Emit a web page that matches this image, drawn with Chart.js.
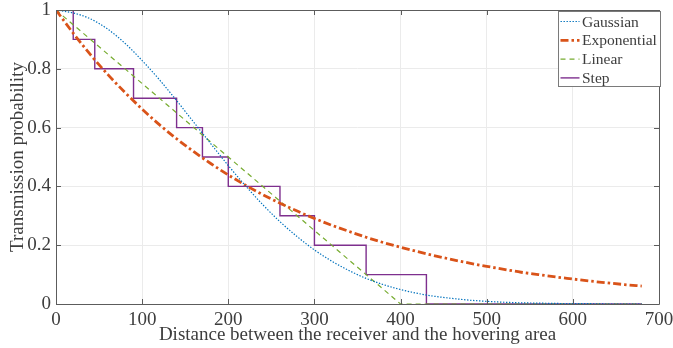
<!DOCTYPE html>
<html>
<head>
<meta charset="utf-8">
<script src="https://cdn.jsdelivr.net/npm/chart.js@4"></script>
<style>
  html, body { margin: 0; padding: 0; background: #fff; }
  #wrap { width: 673px; height: 348px; position: relative; }
</style>
</head>
<body>
<div id="wrap"><canvas id="chart"></canvas></div>
<script>
// distance samples for the smooth curves
const distance = [0, 20, 40, 60, 80, 100, 120, 140, 160, 180, 200, 220, 240, 260, 280, 300, 320, 340,
  360, 380, 400, 420, 440, 460, 480, 500, 520, 540, 560, 580, 600, 620, 640, 660, 680];
const gaussian = [1, 0.99, 0.97, 0.935, 0.887, 0.828, 0.763, 0.692, 0.618, 0.544, 0.471, 0.402, 0.338,
  0.28, 0.229, 0.184, 0.146, 0.114, 0.087, 0.066, 0.049, 0.036, 0.026, 0.019, 0.013, 0.009, 0.006,
  0.004, 0.003, 0.002, 0.001, 0.001, 0, 0, 0];
const exponential = [1, 0.921, 0.848, 0.781, 0.72, 0.663, 0.61, 0.562, 0.518, 0.477, 0.439, 0.404, 0.372,
  0.343, 0.316, 0.291, 0.268, 0.247, 0.227, 0.209, 0.193, 0.178, 0.164, 0.151, 0.139, 0.128, 0.118,
  0.108, 0.1, 0.092, 0.085, 0.078, 0.072, 0.066, 0.061];
const linearX = [0, 400, 680];
const linearY = [1, 0, 0];
const stepX = [0, 20, 45, 90, 140, 170, 200, 260, 300, 360, 430, 680];
const stepY = [1, 0.9, 0.8, 0.7, 0.6, 0.5, 0.4, 0.3, 0.2, 0.1, 0, 0];

const xTicks = [0, 100, 200, 300, 400, 500, 600, 700];
const yTicks = [0, 0.2, 0.4, 0.6, 0.8, 1];
const yTickLabels = ['0', '0.2', '0.4', '0.6', '0.8', '1'];

const serif = '"Liberation Serif", "Times New Roman", serif';
const axisColor = '#5c5c5c';
const textColor = '#3d3d3d';

const pts = (xs, ys) => xs.map((x, i) => ({ x, y: ys[i] }));

// box around the plot, inward ticks on all four sides
const boxPlugin = {
  id: 'box',
  afterDatasetsDraw(chart) {
    const { ctx, chartArea: a, scales: { x, y } } = chart;
    const t = 5;
    ctx.save();
    ctx.strokeStyle = axisColor;
    ctx.lineWidth = 1;
    ctx.beginPath();
    ctx.rect(Math.round(a.left) + 0.5, Math.round(a.top) + 0.5,
      Math.round(a.right - a.left), Math.round(a.bottom - a.top));
    xTicks.forEach(v => {
      const px = Math.round(x.getPixelForValue(v)) + 0.5;
      ctx.moveTo(px, a.bottom); ctx.lineTo(px, a.bottom - t);
      ctx.moveTo(px, a.top); ctx.lineTo(px, a.top + t);
    });
    yTicks.forEach(v => {
      const py = Math.round(y.getPixelForValue(v)) + 0.5;
      ctx.moveTo(a.left, py); ctx.lineTo(a.left + t, py);
      ctx.moveTo(a.right, py); ctx.lineTo(a.right - t, py);
    });
    ctx.stroke();
    ctx.restore();
  }
};

// legend box in the top right corner of the plot
const legendPlugin = {
  id: 'innerLegend',
  afterDraw(chart) {
    const { ctx, chartArea: a } = chart;
    const w = 102, h = 75, rowH = 18.8;
    const left = Math.round(a.right) - w + 1.5, top = Math.round(a.top) + 1.5;
    ctx.save();
    ctx.fillStyle = '#fff';
    ctx.fillRect(left, top, w, h);
    ctx.strokeStyle = '#7a7a7a';
    ctx.lineWidth = 1;
    ctx.strokeRect(left, top, w, h);
    ctx.font = '15.5px ' + serif;
    ctx.textBaseline = 'middle';
    chart.data.datasets.forEach((ds, i) => {
      const cy = top + 10 + i * rowH;
      ctx.save();
      ctx.strokeStyle = ds.borderColor;
      ctx.lineWidth = ds.borderWidth;
      ctx.setLineDash(ds.borderDash || []);
      ctx.beginPath();
      ctx.moveTo(left + 2, cy);
      ctx.lineTo(left + 21, cy);
      ctx.stroke();
      ctx.restore();
      ctx.fillStyle = textColor;
      ctx.fillText(ds.label, left + 23.5, cy + 1);
    });
    ctx.restore();
  }
};

new Chart(document.getElementById('chart'), {
  type: 'line',
  data: {
    datasets: [
      {
        label: 'Gaussian',
        data: pts(distance, gaussian),
        borderColor: '#0072BD',
        borderWidth: 1.2,
        borderDash: [1.4, 1.6],
        cubicInterpolationMode: 'monotone'
      },
      {
        label: 'Exponential',
        data: pts(distance, exponential),
        borderColor: '#D95319',
        borderWidth: 2.8,
        borderDash: [8, 3, 2.5, 3],
        cubicInterpolationMode: 'monotone'
      },
      {
        label: 'Linear',
        data: pts(linearX, linearY),
        borderColor: '#77AC30',
        borderWidth: 1.2,
        borderDash: [5, 4]
      },
      {
        label: 'Step',
        data: pts(stepX, stepY),
        borderColor: '#7E2F8E',
        borderWidth: 1.4,
        stepped: 'before'
      }
    ]
  },
  options: {
    responsive: true,
    maintainAspectRatio: false,
    animation: false,
    events: [],
    elements: { point: { radius: 0 } },
    layout: { padding: { top: 10, right: 14, left: 0, bottom: 0 } },
    plugins: {
      legend: { display: false },
      tooltip: { enabled: false }
    },
    scales: {
      x: {
        type: 'linear',
        min: 0,
        max: 700,
        afterBuildTicks: s => { s.ticks = xTicks.map(v => ({ value: v })); },
        afterFit: s => { s.height = 44; s.paddingLeft = 0; s.paddingRight = 0; },
        border: { display: false },
        grid: { color: '#ebebeb', drawTicks: false },
        ticks: { color: textColor, padding: 5, font: { family: serif, size: 19 }, maxRotation: 0 },
        title: {
          display: true,
          text: 'Distance between the receiver and the hovering area',
          color: textColor,
          font: { family: serif, size: 19 },
          padding: { top: 0, bottom: 2 }
        }
      },
      y: {
        min: 0,
        max: 1,
        afterBuildTicks: s => { s.ticks = yTicks.map(v => ({ value: v })); },
        afterFit: s => { s.width = 56; s.paddingTop = 0; s.paddingBottom = 0; },
        border: { display: false },
        grid: { color: '#ebebeb', drawTicks: false },
        ticks: {
          color: textColor,
          padding: 5,
          font: { family: serif, size: 19 },
          callback: (v) => yTickLabels[yTicks.findIndex(t => Math.abs(t - v) < 1e-9)]
        },
        title: {
          display: true,
          text: 'Transmission probability',
          color: textColor,
          font: { family: serif, size: 19 },
          padding: { top: 7, bottom: 0 }
        }
      }
    }
  },
  plugins: [boxPlugin, legendPlugin]
});
</script>
</body>
</html>
